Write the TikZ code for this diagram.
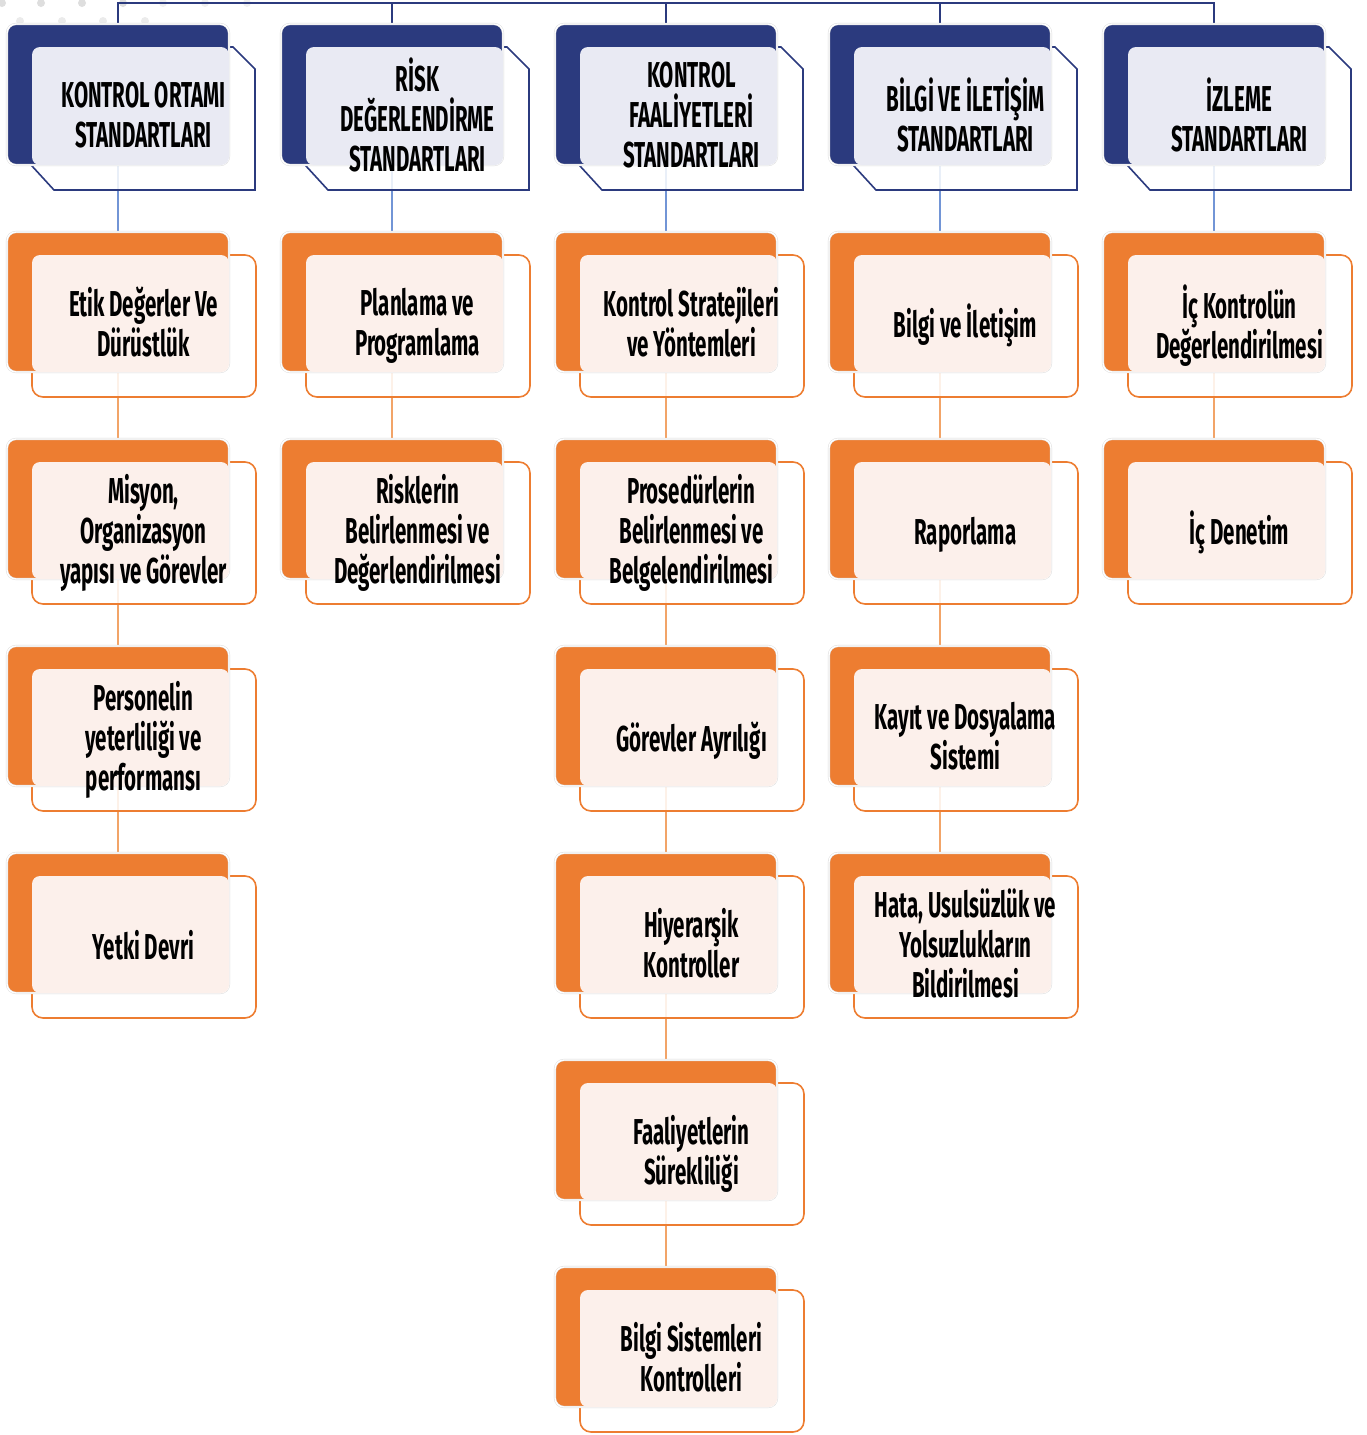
\documentclass[tikz,border=0pt]{standalone}
\usepackage{fontspec}
\setmainfont{Fira Sans}[FakeStretch=0.57]
\definecolor{navy}{HTML}{2B3A7E}
\definecolor{hfrontc}{HTML}{E9EAF3}
\definecolor{orng}{HTML}{ED7D31}
\definecolor{cfrontc}{HTML}{FCF0EB}
\definecolor{lblue}{HTML}{7295D6}
\definecolor{lorng}{HTML}{F2A468}
\pgfdeclarelayer{bg}
\pgfsetlayers{bg,main}
\newcommand\mystrut{\vrule height 32.5pt depth 7.5pt width 0pt\relax}
\newcommand\txtfont{\fontsize{36}{40}\selectfont\bfseries\setlength\lineskiplimit{-100pt}}
\newcommand\headbox[4]{%
  \draw[hframe] ({#2+25},{#3+23}) -- ({#2+226},{#3+23}) -- ({#2+248},{#3+45}) -- ({#2+248},{#3+166}) -- ({#2+47},{#3+166}) -- ({#2+25},{#3+142}) -- cycle;
  \node[hback] (#1b) at ({#2+111},{#3+70.5}) {};
  \node[hfront] (#1f) at ({#2+123.5},{#3+82}) {};
  \node[txt] (#1) at ({#2+136.5},{#3+94.5}) {#4};
}
\newcommand\childbox[4]{%
  \node[cframe] (#1o) at ({#2+137},{#3+94}) {};
  \node[cback] (#1b) at ({#2+111},{#3+70}) {};
  \node[cfront] (#1f) at ({#2+123.5},{#3+81.5}) {};
  \node[txt] (#1) at ({#2+136.5},{#3+93.5}) {#4};
}
\begin{document}
\begin{tikzpicture}[x=1pt,y=-1pt,
  hframe/.style={draw=navy, line width=1.6pt, fill=white, fill opacity=0.85, draw opacity=1},
  backbase/.style={rectangle, rounded corners=9pt, draw=black!15, double=white, double distance=1.4pt, line width=0.4pt, inner sep=0pt, minimum width=222pt},
  hback/.style={backbase, fill=navy, minimum height=141pt},
  cback/.style={backbase, fill=orng, minimum height=140pt},
  hfront/.style={rectangle, rounded corners=8pt, fill=hfrontc, inner sep=0pt, minimum width=197pt, minimum height=118pt},
  cfront/.style={rectangle, rounded corners=8pt, fill=cfrontc, inner sep=0pt, minimum width=197pt, minimum height=117pt},
  cframe/.style={rectangle, rounded corners=11pt, draw=orng, line width=1.6pt, fill=white, fill opacity=0.85, draw opacity=1, inner sep=0pt, minimum width=224pt, minimum height=142pt},
  txt/.style={align=center, inner sep=0pt, font=\txtfont, text=black,
    execute at begin node=\mystrut, execute at end node=\mystrut},
  bus/.style={draw=navy, line width=1.8pt},
  hconn/.style={draw=lblue, line width=2.4pt},
  cconn/.style={draw=lorng, line width=2.8pt}
]
\useasboundingbox (0,0) rectangle (1367,1435);
\coordinate (busy) at (0,3);

% column 1
\headbox{h0}{7}{24}{KONTROL ORTAMI\\STANDARTLARI}
\childbox{a1}{7}{232}{Etik Değerler Ve\\Dürüstlük}
\childbox{a2}{7}{439}{Misyon,\\Organizasyon\\yapısı ve Görevler}
\childbox{a3}{7}{646}{Personelin\\yeterliliği ve\\performansı}
\childbox{a4}{7}{853}{Yetki Devri}

% column 2
\headbox{h1}{281}{24}{RİSK\\DEĞERLENDİRME\\STANDARTLARI}
\childbox{b1}{281}{232}{Planlama ve\\Programlama}
\childbox{b2}{281}{439}{Risklerin\\Belirlenmesi ve\\Değerlendirilmesi}

% column 3
\headbox{h2}{555}{24}{KONTROL\\FAALİYETLERİ\\STANDARTLARI}
\childbox{k1}{555}{232}{Kontrol Stratejileri\\ve Yöntemleri}
\childbox{k2}{555}{439}{Prosedürlerin\\Belirlenmesi ve\\Belgelendirilmesi}
\childbox{k3}{555}{646}{Görevler Ayrılığı}
\childbox{k4}{555}{853}{Hiyerarşik\\Kontroller}
\childbox{k5}{555}{1060}{Faaliyetlerin\\Sürekliliği}
\childbox{k6}{555}{1267}{Bilgi Sistemleri\\Kontrolleri}

% column 4
\headbox{h3}{829}{24}{BİLGİ VE İLETİŞİM\\STANDARTLARI}
\childbox{d1}{829}{232}{Bilgi ve İletişim}
\childbox{d2}{829}{439}{Raporlama}
\childbox{d3}{829}{646}{Kayıt ve Dosyalama\\Sistemi}
\childbox{d4}{829}{853}{Hata, Usulsüzlük ve\\Yolsuzlukların\\Bildirilmesi}

% column 5
\headbox{h4}{1103}{24}{İZLEME\\STANDARTLARI}
\childbox{e1}{1103}{232}{İç Kontrolün\\Değerlendirilmesi}
\childbox{e2}{1103}{439}{İç Denetim}

\begin{pgfonlayer}{bg}
  \foreach \x in {2,41,82,123} \fill[black!13] (\x,3) circle (4);
  \foreach \x in {163,205,247} \fill[black!6] (\x,3) circle (4);
  \foreach \x in {20,62,103,145} \fill[black!8] (\x,21) circle (4);
  \draw[bus] (h0b.north) -- (h0b.north |- busy) -- (h4b.north |- busy) -- (h4b.north);
  \draw[bus] (h1b.north) -- (h1b.north |- busy);
  \draw[bus] (h2b.north) -- (h2b.north |- busy);
  \draw[bus] (h3b.north) -- (h3b.north |- busy);
  \draw[hconn] (h0b.center) -- (a1b.center);
  \draw[hconn] (h1b.center) -- (b1b.center);
  \draw[hconn] (h2b.center) -- (k1b.center);
  \draw[hconn] (h3b.center) -- (d1b.center);
  \draw[hconn] (h4b.center) -- (e1b.center);
  \draw[cconn] (a1b.center) -- (a2b.center);
  \draw[cconn] (a2b.center) -- (a3b.center);
  \draw[cconn] (a3b.center) -- (a4b.center);
  \draw[cconn] (b1b.center) -- (b2b.center);
  \draw[cconn] (k1b.center) -- (k2b.center);
  \draw[cconn] (k2b.center) -- (k3b.center);
  \draw[cconn] (k3b.center) -- (k4b.center);
  \draw[cconn] (k4b.center) -- (k5b.center);
  \draw[cconn] (k5b.center) -- (k6b.center);
  \draw[cconn] (d1b.center) -- (d2b.center);
  \draw[cconn] (d2b.center) -- (d3b.center);
  \draw[cconn] (d3b.center) -- (d4b.center);
  \draw[cconn] (e1b.center) -- (e2b.center);
\end{pgfonlayer}
\end{tikzpicture}
\end{document}
